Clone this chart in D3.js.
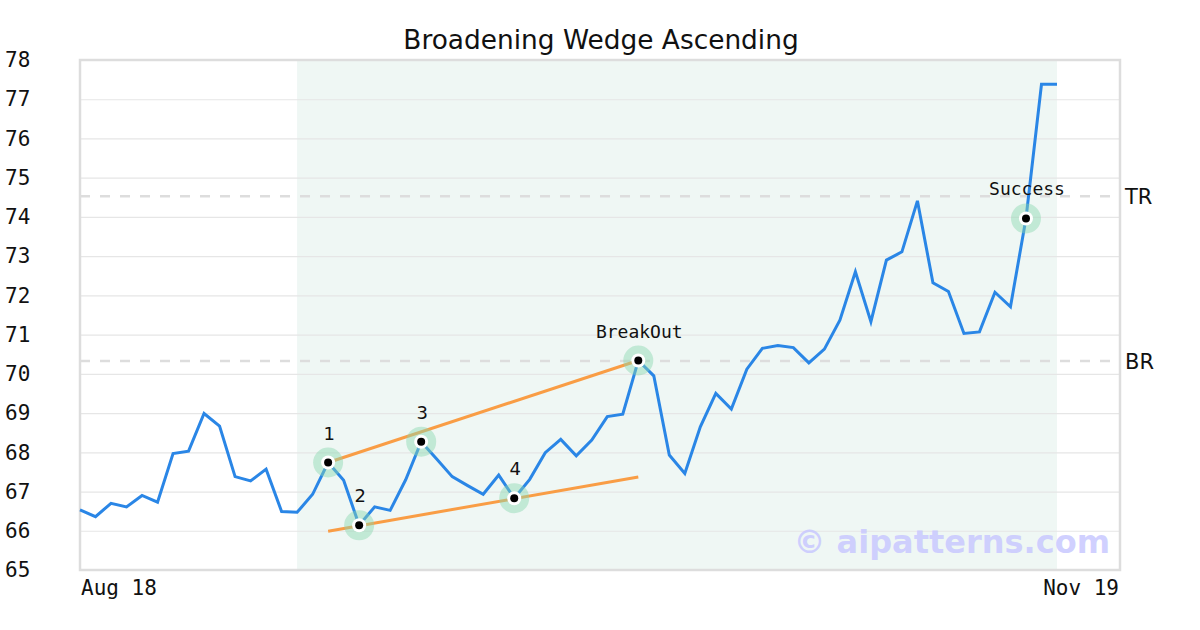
<!DOCTYPE html>
<html><head><meta charset="utf-8">
<script src="https://cdn.jsdelivr.net/npm/d3@7/dist/d3.min.js"></script>
<style>body{margin:0;background:#fff}svg{display:block}</style>
</head><body><svg id="c" width="1200" height="630"></svg>
<script>
const prices = [66.53,66.36,66.70,66.61,66.90,66.73,67.97,68.03,68.99,68.67,67.38,67.27,67.57,66.49,66.47,66.93,67.74,67.29,66.14,66.61,66.52,67.30,68.27,67.83,67.38,67.15,66.93,67.42,66.83,67.31,67.99,68.33,67.91,68.31,68.91,68.97,70.34,69.95,67.93,67.46,68.65,69.50,69.10,70.12,70.65,70.72,70.67,70.28,70.63,71.37,72.60,71.33,72.90,73.11,74.41,72.32,72.10,71.03,71.07,72.08,71.71,73.96,77.38,77.38];
const markers = [{i:16,label:"1"},{i:18,label:"2"},{i:22,label:"3"},{i:28,label:"4"},{i:36,label:"BreakOut"},{i:61,label:"Success"}];
const upperLine = [{i:16,v:67.74},{i:36,v:70.34}];
const lowerLine = [{i:16,v:65.99},{i:36,v:67.37}];
const levels = [{name:"TR",v:74.53},{name:"BR",v:70.33}];
const shadeRange = [14,63];
const yTicks = [65,66,67,68,69,70,71,72,73,74,75,76,77,78];
const xLabels = ["Aug 18","Nov 19"];
const title = "Broadening Wedge Ascending";

const svg = d3.select("#c");
const L=80,R=1120,T=60,B=570;
const x = d3.scaleLinear().domain([0,prices.length-1]).range([L,1057]);
const y = d3.scaleLinear().domain([65,78]).range([B,T]);

svg.append("text").attr("x",601).attr("y",49).attr("text-anchor","middle")
  .attr("font-family","DejaVu Sans").attr("font-size",26.4).attr("fill","#111").text(title);

// shade
svg.append("rect").attr("x",x(shadeRange[0])).attr("y",T).attr("width",x(shadeRange[1])-x(shadeRange[0]))
  .attr("height",B-T).attr("fill","#eff7f4");

// grid
const yAxis = d3.axisLeft(y).tickValues(yTicks).tickSize(-(R-L)).tickFormat(d3.format("d"));
const ga = svg.append("g").attr("transform",`translate(${L},0)`).call(yAxis);
ga.select(".domain").remove();
ga.selectAll(".tick line").attr("stroke","#e6e6e6").attr("stroke-width",1.2);
ga.selectAll(".tick text").attr("x",-75).attr("text-anchor","start").attr("font-family","DejaVu Sans Mono")
  .attr("font-size",21).attr("fill","#111");

// levels
levels.forEach(l=>{
  svg.append("line").attr("x1",L).attr("x2",R).attr("y1",y(l.v)).attr("y2",y(l.v))
    .attr("stroke","#dddddd").attr("stroke-width",2.5).attr("stroke-dasharray","10,10");
  svg.append("text").attr("x",R+5).attr("y",y(l.v)+8).attr("font-family","DejaVu Sans").attr("font-size",21)
    .attr("fill","#111").text(l.name);
});

// border
svg.append("rect").attr("x",L).attr("y",T).attr("width",R-L).attr("height",B-T)
  .attr("fill","none").attr("stroke","#dddddd").attr("stroke-width",2.5);

// x labels
const xa = svg.append("g").attr("font-family","DejaVu Sans Mono").attr("font-size",21).attr("fill","#111");
xa.append("text").attr("x",x(0)+1).attr("y",595).attr("text-anchor","start").text(xLabels[0]);
xa.append("text").attr("x",R-1).attr("y",595).attr("text-anchor","end").text(xLabels[1]);

// watermark
svg.append("text").attr("x",1110).attr("y",553).attr("text-anchor","end").attr("font-family","DejaVu Sans")
  .attr("font-weight","bold").attr("font-size",32).attr("fill","#c8c8ff").attr("fill-opacity",0.85).text("© aipatterns.com");

// wedge lines
const ln = d3.line().x(d=>x(d.i)).y(d=>y(d.v));
[upperLine,lowerLine].forEach(d=>{
  svg.append("path").attr("d",ln(d)).attr("fill","none").attr("stroke","#f99d45").attr("stroke-width",3);
});

// price
const pl = d3.line().x((d,i)=>x(i)).y(d=>y(d));
svg.append("path").attr("d",pl(prices)).attr("fill","none").attr("stroke","#2a86e6").attr("stroke-width",3)
  .attr("stroke-linejoin","miter");

// markers
markers.forEach(m=>{
  const cx=x(m.i), cy=y(prices[m.i]);
  svg.append("circle").attr("cx",cx).attr("cy",cy).attr("r",15).attr("fill","#8ad8b0").attr("fill-opacity",0.45);
  svg.append("circle").attr("cx",cx).attr("cy",cy).attr("r",7).attr("fill","#fff");
  svg.append("circle").attr("cx",cx).attr("cy",cy).attr("r",4).attr("fill","#000");
  const mono = m.label.length>1;
  svg.append("text").attr("x",cx+1).attr("y",cy-23).attr("text-anchor","middle")
    .attr("font-family",mono?"DejaVu Sans Mono":"DejaVu Sans").attr("font-size",18).attr("fill","#111").text(m.label);
});
</script></body></html>
